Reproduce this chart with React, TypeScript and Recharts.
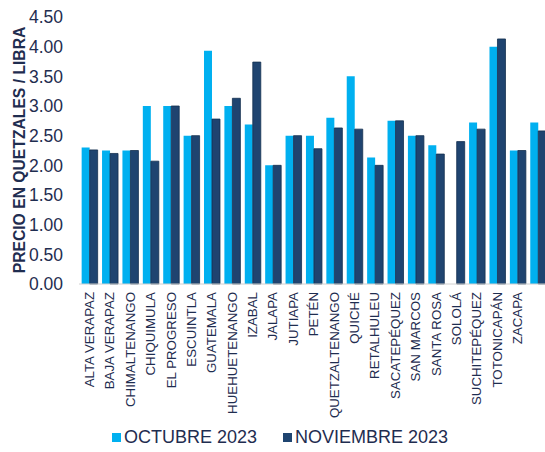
import React from 'react';
import { BarChart, Bar, XAxis, YAxis, Legend } from 'recharts';

const departamentos = [
    'ALTA VERAPAZ', 'BAJA VERAPAZ', 'CHIMALTENANGO', 'CHIQUIMULA', 'EL PROGRESO',
    'ESCUINTLA', 'GUATEMALA', 'HUEHUETENANGO', 'IZABAL', 'JALAPA', 'JUTIAPA',
    'PETÉN', 'QUETZALTENANGO', 'QUICHÉ', 'RETALHULEU', 'SACATEPÉQUEZ',
    'SAN MARCOS', 'SANTA ROSA', 'SOLOLÁ', 'SUCHITEPÉQUEZ', 'TOTONICAPÁN', 'ZACAPA', '',
];

const octubre2023 = [
    2.30, 2.25, 2.25, 3.00, 3.00, 2.50, 3.93, 3.00, 2.69, 2.00, 2.50,
    2.50, 2.80, 3.50, 2.13, 2.75, 2.50, 2.34, 0, 2.72, 4.00, 2.25, 2.72,
];

const noviembre2023 = [
    2.26, 2.20, 2.25, 2.07, 3.00, 2.50, 2.78, 3.13, 3.74, 2.00, 2.50,
    2.28, 2.63, 2.61, 2.00, 2.75, 2.50, 2.19, 2.40, 2.61, 4.13, 2.25, 2.58,
];

const yTicks = [0, 0.5, 1, 1.5, 2, 2.5, 3, 3.5, 4, 4.5];
const seriesOrder = ['oct', 'nov'];

const LIGHT = '#00b0f0';
const DARK = '#1f4470';
const TEXT = '#1f2d50';
const FONT = '"Liberation Sans", Arial, sans-serif';

const data = departamentos.map((name, i) => ({
    name,
    oct: octubre2023[i],
    nov: noviembre2023[i],
}));

const DeptTick = (props: any) => {
    const { x, y, payload } = props;
    return (
        <text
            x={x}
            y={y}
            transform={`rotate(-90, ${x}, ${y})`}
            textAnchor="end"
            dy="0.36em"
            fill={TEXT}
            fontSize={13.3}
            fontFamily={FONT}
        >
            {payload.value}
        </text>
    );
};

const YTitle = () => (
    <text
        x={19}
        y={150}
        transform="rotate(-90, 19, 150)"
        textAnchor="middle"
        dominantBaseline="central"
        fill={TEXT}
        fontSize={15.7}
        fontWeight="bold"
        fontFamily={FONT}
    >
        PRECIO EN QUETZALES / LIBRA
    </text>
);

const LegendBox = (props: any) => {
    const items = [...(props.payload || [])].sort(
        (a: any, b: any) => seriesOrder.indexOf(a.dataKey) - seriesOrder.indexOf(b.dataKey)
    );
    return (
        <div style={{ display: 'flex', justifyContent: 'center', paddingLeft: 12, fontFamily: FONT }}>
            {items.map((it: any, i: number) => (
                <div key={i} style={{ display: 'flex', alignItems: 'center', marginRight: i === 0 ? 26 : 0 }}>
                    <span style={{ width: 9, height: 9, background: it.color, marginRight: 3, display: 'inline-block' }} />
                    <span style={{ fontSize: 18, color: TEXT, lineHeight: '22px' }}>{it.value}</span>
                </div>
            ))}
        </div>
    );
};

export default function App() {
    return (
        <div style={{ position: 'absolute', left: 0, top: 0, width: 545, height: 452, overflow: 'hidden', background: '#fff' }}>
            <BarChart
                width={560}
                height={452}
                data={data}
                margin={{ top: 17, right: 12, bottom: 2, left: 0 }}
                barGap={0}
                barCategoryGap="13%"
            >
                <XAxis
                    dataKey="name"
                    interval={0}
                    tick={<DeptTick />}
                    tickLine={false}
                    axisLine={{ stroke: '#d0d0d0' }}
                    height={142}
                />
                <YAxis
                    domain={[0, 4.5]}
                    ticks={yTicks}
                    width={79}
                    axisLine={false}
                    tickLine={false}
                    tickMargin={10}
                    tickFormatter={(v: number) => v.toFixed(2)}
                    tick={{ fill: TEXT, fontSize: 17.5, fontFamily: FONT }}
                    label={<YTitle />}
                />
                <Legend verticalAlign="bottom" height={24} content={<LegendBox />} />
                <Bar dataKey="oct" name="OCTUBRE 2023" fill={LIGHT} isAnimationActive={false} />
                <Bar dataKey="nov" name="NOVIEMBRE 2023" fill={DARK} stroke="#14304f" strokeWidth={0.8} isAnimationActive={false} />
            </BarChart>
        </div>
    );
}
